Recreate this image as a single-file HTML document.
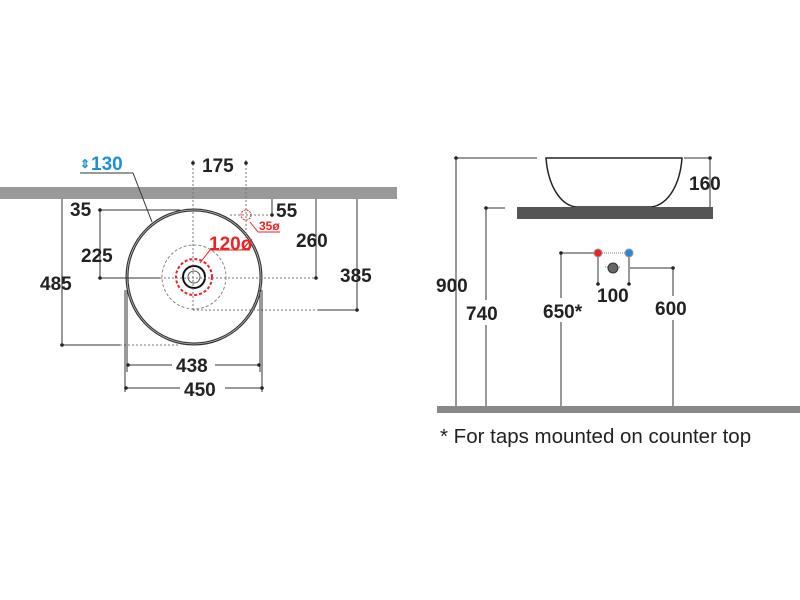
<!DOCTYPE html>
<html><head><style>body{margin:0;background:#fff}svg{display:block}text{font-family:"Liberation Sans",sans-serif;font-weight:bold;font-size:19px;fill:#222}</style></head><body>
<svg width="800" height="600" viewBox="0 0 800 600">
<g stroke="#333" stroke-width="1" fill="none">
<rect x="0" y="187" width="397" height="12" fill="#999" stroke="none"/>
<circle cx="194" cy="277" r="67" stroke="#333" stroke-width="3"/>
<circle cx="194" cy="277" r="67" stroke="#bbb" stroke-width="0.8"/>
<circle cx="194" cy="277" r="32" stroke="#888" stroke-dasharray="3,2"/>
<circle cx="194" cy="277" r="18" stroke="#e22" stroke-width="2" stroke-dasharray="3,2"/>
<circle cx="194" cy="277" r="11" stroke="#111" stroke-width="2"/>
<circle cx="194" cy="277" r="6" stroke="#555"/>
<line x1="193" y1="160" x2="193" y2="310" stroke="#777" stroke-dasharray="2,2"/>
<line x1="246" y1="160" x2="246" y2="240" stroke="#777" stroke-dasharray="2,2"/>
<circle cx="246" cy="215" r="5" stroke="#e22" stroke-dasharray="2,1"/>
<line x1="230" y1="215" x2="272" y2="215" stroke="#777" stroke-dasharray="2,2"/>
<line x1="272" y1="199" x2="272" y2="215"/>
<polyline points="250,222 258,232 280,232" stroke="#e22"/>
<polyline points="200,263 210,250 250,250" stroke="#e22"/>
<line x1="100" y1="210" x2="180" y2="210"/>
<line x1="100" y1="210" x2="100" y2="278"/>
<line x1="100" y1="278" x2="160" y2="278"/>
<line x1="160" y1="278" x2="315" y2="278" stroke="#777" stroke-dasharray="2,2"/>
<line x1="316" y1="199" x2="316" y2="278"/>
<line x1="62" y1="199" x2="62" y2="345"/>
<line x1="62" y1="345" x2="120" y2="345"/>
<line x1="120" y1="345" x2="180" y2="345" stroke="#777" stroke-dasharray="2,2"/>
<line x1="357" y1="199" x2="357" y2="310"/>
<line x1="193" y1="310" x2="318" y2="310" stroke="#777" stroke-dasharray="2,2"/>
<line x1="318" y1="310" x2="357" y2="310"/>
<line x1="127" y1="290" x2="127" y2="372"/>
<line x1="260" y1="290" x2="260" y2="372"/>
<line x1="125" y1="290" x2="125" y2="392"/>
<line x1="262" y1="290" x2="262" y2="392"/>
<line x1="127" y1="365" x2="172" y2="365"/><line x1="215" y1="365" x2="260" y2="365"/>
<line x1="125" y1="388" x2="180" y2="388"/><line x1="225" y1="388" x2="262" y2="388"/>
<polyline points="80,173 133,173 152,222" stroke="#333"/>
<line x1="456" y1="158" x2="537" y2="158"/>
<line x1="456" y1="158" x2="456" y2="408"/>
<path d="M546,158 L682,158 C680,185 668,205 651,207 L576,207 C560,205 548,185 546,158Z" stroke="#222" stroke-width="1.5"/>
<rect x="517" y="207" width="196" height="12" fill="#555" stroke="none"/>
<line x1="684" y1="158" x2="710" y2="158"/><line x1="710" y1="158" x2="710" y2="207"/>
<line x1="486" y1="208" x2="505" y2="208"/><line x1="486" y1="208" x2="486" y2="300"/><line x1="486" y1="325" x2="486" y2="408"/>
<line x1="561" y1="253" x2="598" y2="253"/><line x1="561" y1="253" x2="561" y2="298"/><line x1="561" y1="322" x2="561" y2="408"/>
<line x1="598" y1="253" x2="629" y2="253" stroke="#777" stroke-dasharray="1,1"/>
<line x1="598" y1="253" x2="598" y2="284"/><line x1="629" y1="253" x2="629" y2="284"/>
<line x1="605" y1="267" x2="621" y2="267" stroke="#777" stroke-dasharray="1,1"/>
<line x1="630" y1="268" x2="673" y2="268"/><line x1="673" y1="268" x2="673" y2="296"/><line x1="673" y1="320" x2="673" y2="408"/>
<rect x="437" y="406" width="363" height="7" fill="#888" stroke="none"/>
</g>
<circle cx="598" cy="253" r="4" fill="#e22" stroke="#999"/>
<circle cx="629" cy="253" r="4" fill="#28d" stroke="#999"/>
<circle cx="613" cy="268" r="5" fill="#666" stroke="#333"/>
<g fill="#222">
<circle cx="193" cy="163" r="1.8"/><circle cx="246" cy="163" r="1.8"/>
<circle cx="100" cy="210" r="1.8"/><circle cx="100" cy="278" r="1.8"/>
<circle cx="316" cy="278" r="1.8"/><circle cx="357" cy="310" r="1.8"/><circle cx="62" cy="345" r="1.8"/>
<circle cx="272" cy="215" r="1.8"/>
<circle cx="128" cy="365" r="1.8"/><circle cx="259" cy="365" r="1.8"/>
<circle cx="126" cy="388" r="1.8"/><circle cx="262" cy="388" r="1.8"/>
<circle cx="456" cy="158" r="1.8"/><circle cx="710" cy="158" r="1.8"/><circle cx="486" cy="208" r="1.8"/>
<circle cx="561" cy="253" r="1.8"/><circle cx="673" cy="268" r="1.8"/>
<circle cx="598" cy="284" r="1.8"/><circle cx="629" cy="284" r="1.8"/>
</g>
<text x="202" y="172">175</text>
<text x="276" y="217">55</text>
<text x="70" y="216">35</text>
<text x="81" y="262">225</text>
<text x="40" y="290">485</text>
<text x="296" y="247">260</text>
<text x="340" y="282">385</text>
<text x="176" y="372">438</text>
<text x="184" y="396">450</text>
<text x="91" y="170" style="fill:#1e90d6">130</text>
<text x="80" y="168" style="fill:#1e90d6;font-size:12px">⇕</text>
<text x="209" y="250" style="fill:#e22">120ø</text>
<text x="259" y="230" style="fill:#e22;font-size:12px">35ø</text>
<text x="689" y="190">160</text>
<text x="436" y="292">900</text>
<text x="466" y="320">740</text>
<text x="543" y="318">650*</text>
<text x="597" y="302">100</text>
<text x="655" y="315">600</text>
<text x="440" y="443" style="font-weight:normal;font-size:20.5px">* For taps mounted on counter top</text>
</svg>
</body></html>
